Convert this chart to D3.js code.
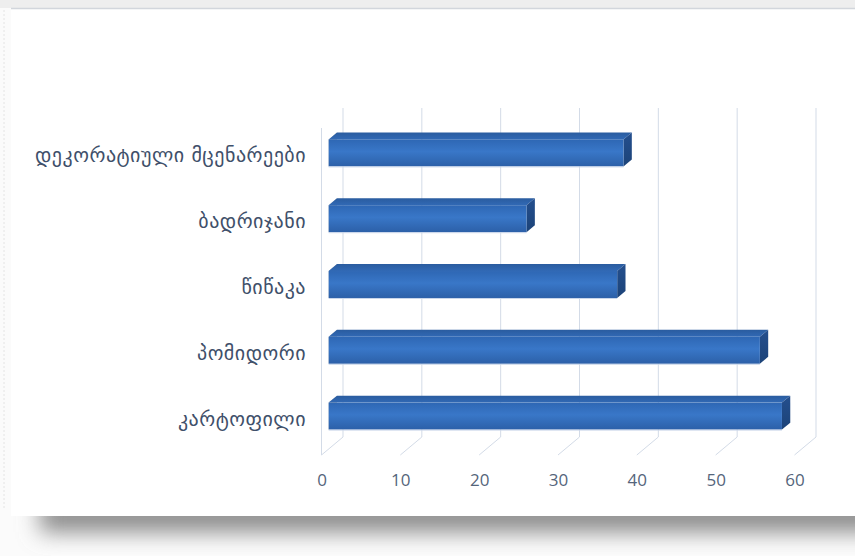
<!DOCTYPE html>
<html>
<head>
<meta charset="utf-8">
<script src="https://cdn.jsdelivr.net/npm/d3@7/dist/d3.min.js"></script>
<style>
  html, body { margin: 0; padding: 0; background: #ffffff; }
  svg { display: block; }
</style>
</head>
<body>
<svg id="chart" width="855" height="556"></svg>
<script>
// Categories, top to bottom, and their values
const categories = ["დეკორატიული მცენარეები", "ბადრიჯანი", "წიწაკა", "პომიდორი", "კარტოფილი"];
const values = [37.4, 25.1, 36.6, 54.7, 57.5];
const tickValues = [0, 10, 20, 30, 40, 50, 60];

const W = 855, H = 556;
const svg = d3.select("#chart");
const defs = svg.append("defs");

// --- card background with soft shadow ---
const blur = defs.append("filter").attr("id", "shadowBlur")
  .attr("x", "-10%").attr("y", "-80%").attr("width", "120%").attr("height", "260%");
blur.append("feGaussianBlur").attr("stdDeviation", 11);

svg.append("rect").attr("x", 0).attr("y", 0).attr("width", W).attr("height", H).attr("fill", "#fbfbfb");
svg.append("rect").attr("x", 0).attr("y", 0).attr("width", W).attr("height", 8).attr("fill", "#eeeeee");
svg.append("rect").attr("x", 40).attr("y", 500).attr("width", W).attr("height", 32)
  .attr("fill", "#8a8a8a").attr("filter", "url(#shadowBlur)");
svg.append("line").attr("x1", 4).attr("x2", 4).attr("y1", 10).attr("y2", 510)
  .attr("stroke", "#e4e4e4").attr("stroke-dasharray", "2,2");
svg.append("rect").attr("x", 11).attr("y", 9).attr("width", W - 11).attr("height", 507)
  .attr("fill", "#ffffff");
svg.append("line").attr("x1", 11).attr("x2", W).attr("y1", 8.5).attr("y2", 8.5)
  .attr("stroke", "#d2d6dc").attr("stroke-width", 1.5);

// --- 3D geometry: back wall plane plus a depth offset toward the viewer ---
const wallTop = 108, wallBottom = 437;
const depthDX = -21.5, depthDY = 18;      // full depth, back -> front
const x = d3.scaleLinear().domain([0, 60]).range([343, 816]);   // on the back wall
const y = d3.scaleBand().domain(categories).range([wallTop, wallBottom])
  .paddingInner(0.59).paddingOuter(0.295);
const zFront = 0.667, zBack = 0.28;        // bar depth (0 = back wall, 1 = front edge)
const P = (v, yy, z) => [x(v) + depthDX * z, yy + depthDY * z];
const xFront = d3.scaleLinear().domain([0, 60]).range([x(0) + depthDX, x(60) + depthDX]);

const grid = svg.append("g").attr("stroke", "#d3dbe7").attr("stroke-width", 1).attr("fill", "none");
// wall gridlines and floor gridlines
tickValues.forEach(t => {
  grid.append("line").attr("x1", x(t)).attr("x2", x(t)).attr("y1", wallTop).attr("y2", wallBottom);
  const a = P(t, wallBottom, 0), b = P(t, wallBottom, 1);
  grid.append("line").attr("x1", a[0]).attr("y1", a[1]).attr("x2", b[0]).attr("y2", b[1]);
});
// side wall front edge
{
  const a = P(0, wallTop, 1), b = P(0, wallBottom, 1);
  grid.append("line").attr("x1", a[0]).attr("y1", a[1] + 2).attr("x2", b[0]).attr("y2", b[1]);
}

// --- bar gradients ---
const gFront = defs.append("linearGradient").attr("id", "barFront").attr("x1", 0).attr("x2", 0).attr("y1", 0).attr("y2", 1);
gFront.append("stop").attr("offset", "0%").attr("stop-color", "#2e67b4");
gFront.append("stop").attr("offset", "45%").attr("stop-color", "#3977c8");
gFront.append("stop").attr("offset", "100%").attr("stop-color", "#2c60a8");
const gTop = defs.append("linearGradient").attr("id", "barTop").attr("x1", 0).attr("x2", 0).attr("y1", 0).attr("y2", 1);
gTop.append("stop").attr("offset", "0%").attr("stop-color", "#2a5c9f");
gTop.append("stop").attr("offset", "100%").attr("stop-color", "#3169b5");
const gSide = defs.append("linearGradient").attr("id", "barSide").attr("x1", 0).attr("x2", 0).attr("y1", 0).attr("y2", 1);
gSide.append("stop").attr("offset", "0%").attr("stop-color", "#244f8e");
gSide.append("stop").attr("offset", "100%").attr("stop-color", "#1c4378");

const poly = pts => "M" + pts.map(p => p.join(",")).join("L") + "Z";

const bars = svg.append("g");
categories.forEach((c, i) => {
  const v = values[i];
  const y0 = y(c), y1 = y(c) + y.bandwidth();
  const g = bars.append("g");
  // faint end cap shadow on the side wall
  g.append("path").attr("d", poly([P(0, y0, zBack), P(0, y0, zFront), P(0, y1, zFront), P(0, y1, zBack)]))
    .attr("fill", "#b9b7ae").attr("opacity", 0.7);
  g.append("path").attr("d", poly([P(0, y0, zFront), P(v, y0, zFront), P(v, y0, zBack), P(0, y0, zBack)]))
    .attr("fill", "url(#barTop)");
  g.append("path").attr("d", poly([P(v, y0, zFront), P(v, y1, zFront), P(v, y1, zBack), P(v, y0, zBack)]))
    .attr("fill", "url(#barSide)");
  const f0 = P(0, y0, zFront), f1 = P(v, y1, zFront);
  g.append("rect").attr("x", f0[0]).attr("y", f0[1]).attr("width", f1[0] - f0[0]).attr("height", f1[1] - f0[1])
    .attr("fill", "url(#barFront)");
  g.append("line").attr("x1", f0[0]).attr("x2", f1[0]).attr("y1", f1[1] + 0.5).attr("y2", f1[1] + 0.5)
    .attr("stroke", "#c9d6ea").attr("stroke-width", 1);
});

// --- value axis labels along the front floor edge ---
const axis = d3.axisBottom(xFront).tickValues(tickValues).tickSize(0).tickPadding(0);
const ax = svg.append("g").attr("transform", `translate(0, ${wallBottom + depthDY + 21})`).call(axis);
ax.select(".domain").remove();
ax.selectAll("text").attr("fill", "#55657b").attr("font-family", "'Open Sans', 'Noto Sans', sans-serif")
  .attr("font-size", 17).attr("dy", "0.6em");

// --- category labels ---
svg.append("g").selectAll("text").data(categories).join("text")
  .attr("x", 306)
  .attr("y", c => y(c) + y.bandwidth() / 2 + depthDY * zFront + 4)
  .attr("text-anchor", "end")
  .attr("dominant-baseline", "middle")
  .attr("fill", "#3f506a")
  .attr("font-family", "'DejaVu Sans', sans-serif")
  .attr("font-size", 20)
  .attr("letter-spacing", 0.5)
  .text(c => c);
</script>
</body>
</html>
